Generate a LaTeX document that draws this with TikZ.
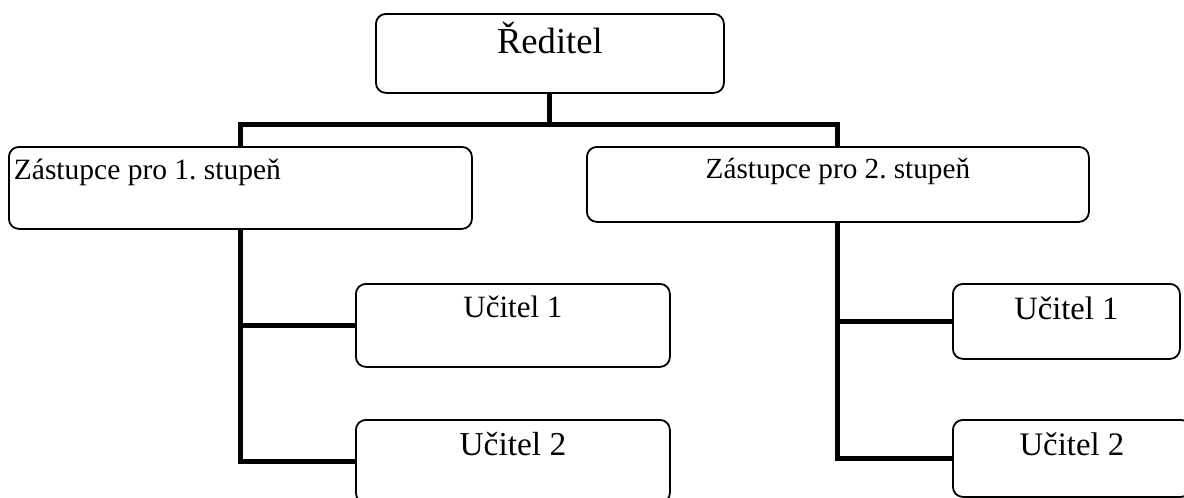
\documentclass[tikz,border=0pt]{standalone}
\usepackage{fontspec}
\setmainfont{Liberation Serif}
\frenchspacing
\begin{document}
\begin{tikzpicture}[x=0.5pt, y=-0.5pt, line join=miter,
	box/.style={draw, line width=0.9pt, rounded corners=5pt, anchor=north west, inner xsep=0pt, inner ysep=0pt},
	conn/.style={line width=2.5pt}]
	\useasboundingbox (0,0) rectangle (1184,498);
	\clip (0,0) rectangle (1184,498);
	% boxes
	\node[box, minimum width=174pt, text height=20pt, text depth=19.5pt, font=\fontsize{18.3}{20}\selectfont] (red) at (375,13) {Ředitel};
	\node[box, inner xsep=2.5pt, text width=226.5pt, align=flush left, text height=16.5pt, text depth=24.5pt, font=\fontsize{14.75}{16}\selectfont] (zas1) at (8,146) {Zástupce pro 1. stupeň};
	\node[box, minimum width=251pt, text height=16pt, text depth=21.5pt, font=\fontsize{14.6}{16}\selectfont] (zas2) at (586,146) {Zástupce pro 2. stupeň};
	\node[box, minimum width=157pt, text height=17pt, text depth=24.5pt, font=\fontsize{15.5}{17}\selectfont] (uc1a) at (355,283) {Učitel 1};
	\node[box, minimum width=157pt, text height=18pt, text depth=23.5pt, font=\fontsize{16.7}{18}\selectfont] (uc2a) at (355,419) {Učitel 2};
	\node[box, minimum width=113.5pt, text height=18pt, text depth=19.5pt, font=\fontsize{16.3}{18}\selectfont] (uc1b) at (952,283) {Učitel 1};
	\node[box, minimum width=119pt, text height=18pt, text depth=20.5pt, font=\fontsize{16.4}{18}\selectfont] (uc2b) at (952,419) {Učitel 2};
	% connectors
	\draw[conn] (red.south) -- ++(0,31) coordinate (hub);
	\draw[conn] (zas1.north) |- (hub) -| (zas2.north);
	\draw[conn] (zas1.south) |- (uc1a.west);
	\draw[conn] (zas1.south) |- (uc2a.west);
	\draw[conn] (zas2.south) |- (uc1b.west);
	\draw[conn] (zas2.south) |- (uc2b.west);
\end{tikzpicture}
\end{document}
